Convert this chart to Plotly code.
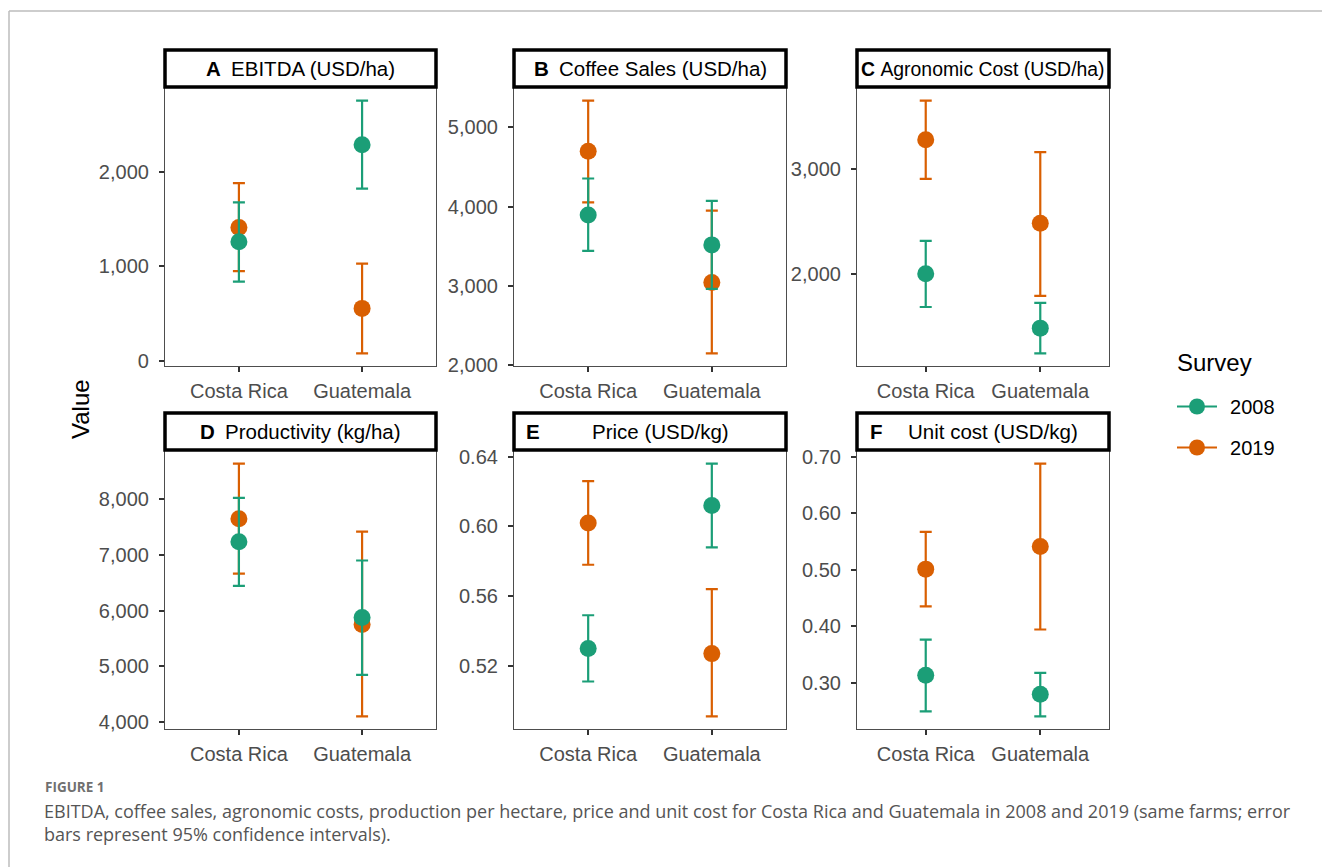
import plotly.graph_objects as go

# ---- data -------------------------------------------------------------
countries = ["Costa Rica", "Guatemala"]
surveys = ["2008", "2019"]

panel_letters = ["A", "B", "C", "D", "E", "F"]
panel_titles = [
    "EBITDA (USD/ha)",
    "Coffee Sales (USD/ha)",
    "Agronomic Cost (USD/ha)",
    "Productivity (kg/ha)",
    "Price (USD/kg)",
    "Unit cost (USD/kg)",
]

# mean, lower 95% CI, upper 95% CI per survey; order = countries
ebitda_2008 = [1260, 2283]
ebitda_2008_lo = [840, 1819]
ebitda_2008_hi = [1675, 2747]
ebitda_2019 = [1410, 558]
ebitda_2019_lo = [950, 84]
ebitda_2019_hi = [1877, 1029]

sales_2008 = [3895, 3518]
sales_2008_lo = [3443, 2962]
sales_2008_hi = [4355, 4074]
sales_2019 = [4698, 3045]
sales_2019_lo = [4054, 2150]
sales_2019_hi = [5337, 3949]

agcost_2008 = [2007, 1489]
agcost_2008_lo = [1690, 1249]
agcost_2008_hi = [2319, 1730]
agcost_2019 = [3281, 2486]
agcost_2019_lo = [2908, 1795]
agcost_2019_hi = [3653, 3164]

prod_2008 = [7238, 5877]
prod_2008_lo = [6446, 4845]
prod_2008_hi = [8029, 6902]
prod_2019 = [7654, 5750]
prod_2019_lo = [6666, 4100]
prod_2019_hi = [8643, 7421]

price_2008 = [0.530, 0.612]
price_2008_lo = [0.511, 0.588]
price_2008_hi = [0.549, 0.636]
price_2019 = [0.602, 0.527]
price_2019_lo = [0.578, 0.491]
price_2019_hi = [0.626, 0.564]

ucost_2008 = [0.313, 0.279]
ucost_2008_lo = [0.249, 0.240]
ucost_2008_hi = [0.376, 0.317]
ucost_2019 = [0.501, 0.541]
ucost_2019_lo = [0.435, 0.394]
ucost_2019_hi = [0.567, 0.688]

caption_head = "FIGURE 1"
caption_line1 = ("EBITDA, coffee sales, agronomic costs, production per hectare, price and unit cost "
                 "for Costa Rica and Guatemala in 2008 and 2019 (same farms; error")
caption_line2 = "bars represent 95% confidence intervals)."

# ---- assemble per-panel series ----------------------------------------
panels = [
    {"2008": (ebitda_2008, ebitda_2008_lo, ebitda_2008_hi), "2019": (ebitda_2019, ebitda_2019_lo, ebitda_2019_hi),
     "fmt": ",.0f", "dtick": 1000},
    {"2008": (sales_2008, sales_2008_lo, sales_2008_hi), "2019": (sales_2019, sales_2019_lo, sales_2019_hi),
     "fmt": ",.0f", "dtick": 1000},
    {"2008": (agcost_2008, agcost_2008_lo, agcost_2008_hi), "2019": (agcost_2019, agcost_2019_lo, agcost_2019_hi),
     "fmt": ",.0f", "dtick": 1000},
    {"2008": (prod_2008, prod_2008_lo, prod_2008_hi), "2019": (prod_2019, prod_2019_lo, prod_2019_hi),
     "fmt": ",.0f", "dtick": 1000},
    {"2008": (price_2008, price_2008_lo, price_2008_hi), "2019": (price_2019, price_2019_lo, price_2019_hi),
     "fmt": ".2f", "dtick": 0.04},
    {"2008": (ucost_2008, ucost_2008_lo, ucost_2008_hi), "2019": (ucost_2019, ucost_2019_lo, ucost_2019_hi),
     "fmt": ".2f", "dtick": 0.1},
]

colors = {"2008": "#1B9E77", "2019": "#D95F02"}

# ---- page geometry (pixels) ------------------------------------------
W, H = 1322, 867
col_px = [(165, 436), (514, 786), (857, 1109)]
row_px = [(88, 366), (451, 729)]          # panel top / bottom
strip_px = [(50, 87), (413, 450)]         # strip top / bottom


def fx(x):
    return x / W


def fy(y):
    return 1 - y / H


SANS = "Liberation Sans, Arial, sans-serif"
TICK_FONT = dict(family=SANS, size=20, color="#4D4D4D")
AXIS_LINE = "#4D4D4D"

fig = go.Figure()
layout_axes = {}
shapes = []
annotations = []

for i, p in enumerate(panels):
    r, c = divmod(i, 3)
    n = i + 1
    xa = "x" if n == 1 else f"x{n}"
    ya = "y" if n == 1 else f"y{n}"

    # draw 2019 first so 2008 sits on top
    for s in ["2019", "2008"]:
        mean, lo, hi = p[s]
        fig.add_trace(go.Scatter(
            x=countries, y=mean, xaxis=xa, yaxis=ya,
            mode="markers", name=s, showlegend=False,
            marker=dict(color=colors[s], size=17, line=dict(width=0)),
            error_y=dict(type="data", symmetric=False,
                         array=[h - m for h, m in zip(hi, mean)],
                         arrayminus=[m - l for m, l in zip(mean, lo)],
                         color=colors[s], thickness=2.2, width=6),
        ))

    # y range: data extent plus 5% padding on each side
    lows = p["2008"][1] + p["2019"][1]
    highs = p["2008"][2] + p["2019"][2]
    lo_v, hi_v = min(lows), max(highs)
    pad = 0.05 * (hi_v - lo_v)

    x0, x1 = col_px[c]
    y0, y1 = row_px[r]
    layout_axes["xaxis" if n == 1 else f"xaxis{n}"] = dict(
        domain=[fx(x0), fx(x1)], anchor=ya, type="category", automargin=False,
        range=[-0.6, 1.6], showgrid=False, zeroline=False,
        showline=True, linecolor=AXIS_LINE, linewidth=1.2, mirror=True,
        ticks="outside", ticklen=5, tickwidth=1.5, tickcolor="#333333",
        tickfont=TICK_FONT, ticklabelstandoff=2,
    )
    layout_axes["yaxis" if n == 1 else f"yaxis{n}"] = dict(
        domain=[fy(y1), fy(y0)], anchor=xa, automargin=False,
        range=[lo_v - pad, hi_v + pad], showgrid=False, zeroline=False,
        showline=True, linecolor=AXIS_LINE, linewidth=1.2, mirror=True,
        ticks="outside", ticklen=5, tickwidth=1.5, tickcolor="#333333",
        tickfont=TICK_FONT, tickformat=p["fmt"], tick0=0, dtick=p["dtick"],
        ticklabelstandoff=6,
    )

    # strip box above the panel
    s0, s1 = strip_px[r]
    shapes.append(dict(type="rect", xref="paper", yref="paper",
                       x0=fx(x0), x1=fx(x1), y0=fy(s1), y1=fy(s0),
                       line=dict(color="black", width=3.5), fillcolor="white", layer="above"))
    ymid = fy((s0 + s1) / 2)
    # the long agronomic-cost title is set a touch smaller so it fits its box
    strip_font = dict(family=SANS, size=19.4 if panel_letters[i] == "C" else 20.5, color="black")
    if panel_letters[i] in ("E", "F"):
        annotations.append(dict(text=f"<b>{panel_letters[i]}</b>", x=fx(x0 + 19), y=ymid,
                                xref="paper", yref="paper", showarrow=False,
                                xanchor="center", yanchor="middle", font=strip_font))
        annotations.append(dict(text=panel_titles[i], x=fx((x0 + x1) / 2 + 10), y=ymid,
                                xref="paper", yref="paper", showarrow=False,
                                xanchor="center", yanchor="middle", font=strip_font))
    else:
        gap = "\u00a0" if panel_letters[i] == "C" else "\u2002"
        annotations.append(dict(text=f"<b>{panel_letters[i]}</b>{gap}{panel_titles[i]}",
                                x=fx((x0 + x1) / 2), y=ymid,
                                xref="paper", yref="paper", showarrow=False,
                                xanchor="center", yanchor="middle", font=strip_font))

# legend entries
for s in surveys:
    fig.add_trace(go.Scatter(
        x=[None], y=[None], mode="lines+markers", name="\u2009\u2009" + s, legendgroup=s,
        marker=dict(color=colors[s], size=17), line=dict(color=colors[s], width=2.2),
    ))

# legend heading
annotations.append(dict(text="Survey", x=fx(1175), y=fy(362), xref="paper", yref="paper",
                        showarrow=False, xanchor="left", yanchor="middle",
                        font=dict(family=SANS, size=24, color="black")))

# shared y title
annotations.append(dict(text="Value", x=fx(80), y=fy(409), xref="paper", yref="paper",
                        showarrow=False, textangle=-90, xanchor="center", yanchor="middle",
                        font=dict(family=SANS, size=24, color="black")))

# caption
cap_font = "'Open Sans', Lato, sans-serif"
annotations.append(dict(text=f"<b>{caption_head}</b>", x=fx(43), y=fy(787), xref="paper", yref="paper",
                        showarrow=False, xanchor="left", yanchor="middle",
                        font=dict(family=cap_font, size=13.5, color="#707070")))
annotations.append(dict(text=caption_line1, x=fx(42), y=fy(811), xref="paper", yref="paper",
                        showarrow=False, xanchor="left", yanchor="middle",
                        font=dict(family=cap_font, size=18, color="#555555")))
annotations.append(dict(text=caption_line2, x=fx(42), y=fy(834), xref="paper", yref="paper",
                        showarrow=False, xanchor="left", yanchor="middle",
                        font=dict(family=cap_font, size=18, color="#555555")))

# outer frame lines (top and left)
shapes.append(dict(type="line", xref="paper", yref="paper", x0=fx(9), x1=1, y0=fy(11), y1=fy(11),
                   line=dict(color="#BDBDBD", width=1.5)))
shapes.append(dict(type="line", xref="paper", yref="paper", x0=fx(9), x1=fx(9), y0=fy(11), y1=0,
                   line=dict(color="#BDBDBD", width=1.5)))

fig.update_layout(
    template="none",
    width=W, height=H, margin=dict(l=0, r=0, t=0, b=0, pad=0, autoexpand=False),
    paper_bgcolor="white", plot_bgcolor="white",
    shapes=shapes, annotations=annotations,
    legend=dict(x=fx(1172), y=fy(387), xanchor="left", yanchor="top",
                font=dict(family=SANS, size=20, color="black"),
                itemwidth=40,
                traceorder="grouped", tracegroupgap=12, bgcolor="rgba(0,0,0,0)"),
    **layout_axes,
)

fig.write_html("out.html")
